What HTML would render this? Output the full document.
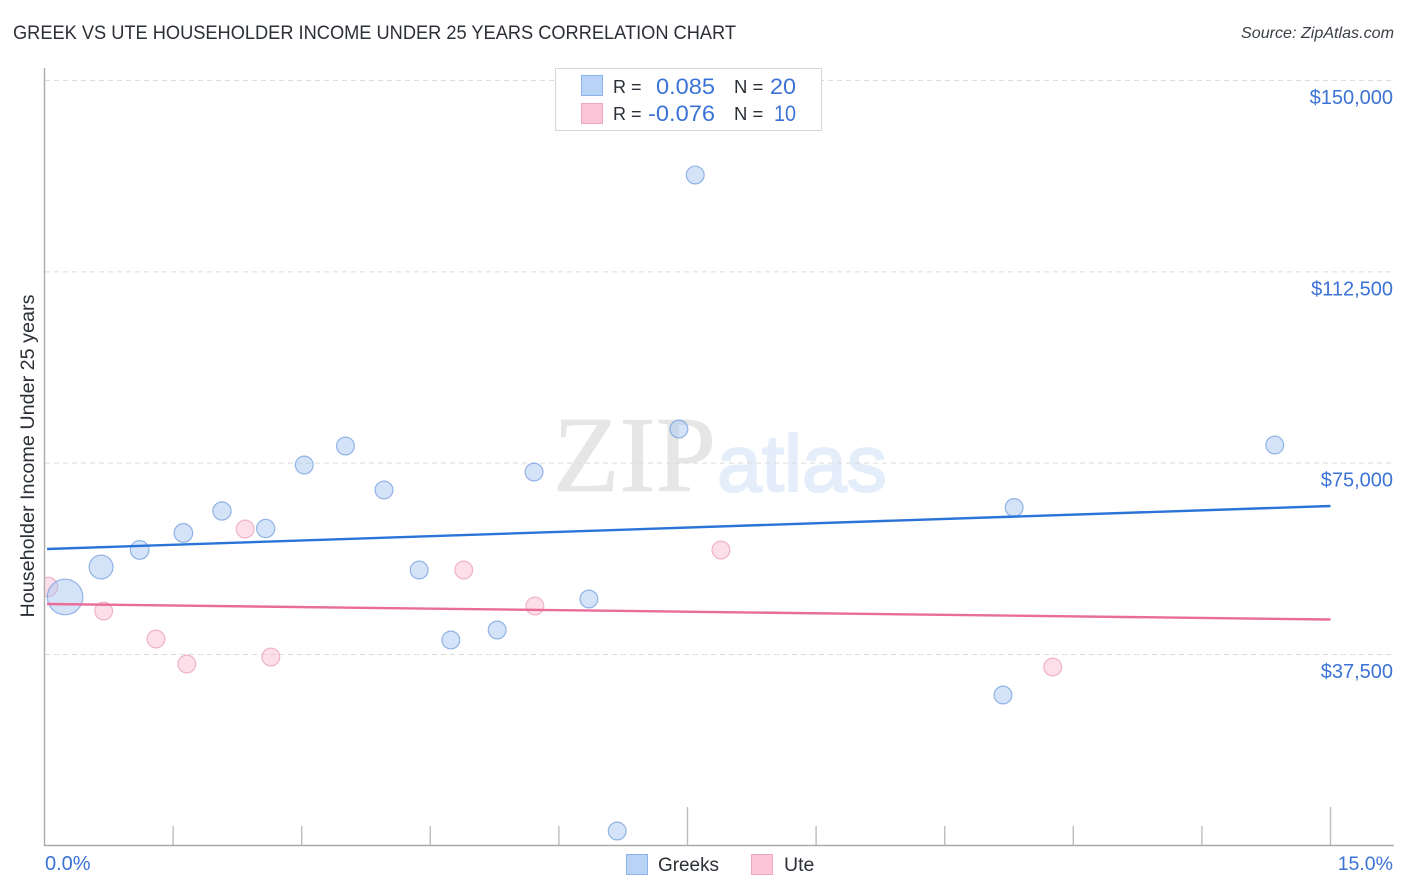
<!DOCTYPE html>
<html lang="en">
<head>
<meta charset="utf-8">
<title>Greek vs Ute Householder Income Under 25 Years Correlation Chart</title>
<style>
html,body{margin:0;padding:0;background:#fff;width:1406px;height:892px;overflow:hidden}
svg{display:block;font-family:"Liberation Sans",sans-serif}
</style>
</head>
<body>
<svg id="chart" width="1406" height="892" viewBox="0 0 1406 892" xmlns="http://www.w3.org/2000/svg">
  <rect x="0" y="0" width="1406" height="892" fill="#ffffff"/>
  <defs><clipPath id="plot-clip"><rect x="45" y="68" width="1349" height="777"/></clipPath></defs>
  <text x="13" y="39" font-size="19" fill="#2b2f36" textLength="723" lengthAdjust="spacingAndGlyphs">GREEK VS UTE HOUSEHOLDER INCOME UNDER 25 YEARS CORRELATION CHART</text>
  <text x="1394" y="38" font-size="16" font-style="italic" fill="#3a3f47" text-anchor="end" textLength="153" lengthAdjust="spacingAndGlyphs">Source: ZipAtlas.com</text>
  <g>
    <text x="553" y="491" font-family="'Liberation Serif',serif" font-size="108" fill="#e6e6e6" stroke="#e6e6e6" stroke-width="0.8" textLength="163" lengthAdjust="spacingAndGlyphs">ZIP</text>
    <text x="717" y="491" font-size="80" fill="#e4edfa" stroke="#e4edfa" stroke-width="2" textLength="170" lengthAdjust="spacingAndGlyphs">atlas</text>
  </g>
  <g id="grid"></g>
  <g id="axes"></g>
  <g id="marks-ute" clip-path="url(#plot-clip)"></g>
  <g id="marks-greeks" clip-path="url(#plot-clip)"></g>
  <g id="trends"></g>
  <g id="labels"></g>
  <text transform="translate(34,456) rotate(-90)" font-size="19.5" fill="#2b2f36" text-anchor="middle" textLength="323" lengthAdjust="spacingAndGlyphs">Householder Income Under 25 years</text>

  <g>
    <rect x="555.5" y="68.5" width="266" height="62" fill="#ffffff" stroke="#d6d6d6"/>
    <rect x="581.5" y="75.5" width="21" height="20" fill="#b9d3f7" stroke="#8db3e8"/>
    <rect x="581.5" y="103.5" width="21" height="20" fill="#fcc6d8" stroke="#f3a6bf"/>
    <text x="613" y="93" font-size="18" fill="#2b2f36">R =</text>
    <text x="715" y="94" font-size="22.5" fill="#3b73d6" text-anchor="end" textLength="59" lengthAdjust="spacingAndGlyphs">0.085</text>
    <text x="734" y="93" font-size="18.5" fill="#2b2f36">N =</text>
    <text x="796" y="94" font-size="22.5" fill="#3b73d6" text-anchor="end" textLength="26" lengthAdjust="spacingAndGlyphs">20</text>
    <text x="613" y="120" font-size="18" fill="#2b2f36">R =</text>
    <text x="715" y="121" font-size="22.5" fill="#3b73d6" text-anchor="end" textLength="67" lengthAdjust="spacingAndGlyphs">-0.076</text>
    <text x="734" y="120" font-size="18.5" fill="#2b2f36">N =</text>
    <text x="796" y="121" font-size="22.5" fill="#3b73d6" text-anchor="end" textLength="22" lengthAdjust="spacingAndGlyphs">10</text>
  </g>

  <g>
    <rect x="626.5" y="854.5" width="21" height="20" fill="#b9d3f7" stroke="#8db3e8"/>
    <text x="658" y="871" font-size="19.5" fill="#2b2f36" textLength="61" lengthAdjust="spacingAndGlyphs">Greeks</text>
    <rect x="751.5" y="854.5" width="21" height="20" fill="#fcc6d8" stroke="#f3a6bf"/>
    <text x="784" y="871" font-size="19.5" fill="#2b2f36">Ute</text>
  </g>
</svg>
<script>
// Chart data
const yTickValues = [37500, 75000, 112500, 150000];
const yTickLabels = ["$37,500", "$75,000", "$112,500", "$150,000"];
const xTickValues = [0, 1.5, 3, 4.5, 6, 7.5, 9, 10.5, 12, 13.5, 15];
const xEndLabels = ["0.0%", "15.0%"];
const greeksX = [0.24, 0.66, 1.11, 1.62, 2.07, 2.58, 3.03, 3.51, 3.96, 4.37, 4.74, 5.28, 5.71, 6.35, 6.68, 7.40, 7.59, 11.18, 11.31, 14.35];
const greeksY = [48672, 54552, 57884, 61216, 65528, 62098, 74544, 78268, 69644, 53964, 40244, 42204, 73172, 48280, 2808, 81600, 131384, 29464, 66214, 78464];
const greeksWeight = [4, 1.8, 1.1, 1.1, 1.05, 1.05, 1, 1, 1, 1, 1, 1, 1, 1, 1, 1, 1, 1, 1, 1];
const uteX = [0.04, 0.69, 1.30, 1.66, 2.34, 2.64, 4.89, 5.72, 7.89, 11.76];
const uteY = [50632, 45928, 40440, 35540, 62000, 36912, 53964, 46908, 57884, 34952];
const uteWeight = [1.2, 1, 1, 1, 1, 1, 1, 1, 1, 1];
const greeksTrendX = [0.03, 15];
const greeksTrendY = [58080, 66508];
const uteTrendX = [0.03, 15];
const uteTrendY = [47300, 44262];

// Axis functions
const NS = "http://www.w3.org/2000/svg";
function xScale(v) { return 44.5 + v * (1330.5 - 44.5) / 15; }
function yScale(v) { return 654 - (v - 37500) * (654 - 80) / (150000 - 37500); }
function rScale(w) { return 8.9 * Math.sqrt(w); }
function make(tag, attrs, parent) {
  const el = document.createElementNS(NS, tag);
  for (const k in attrs) el.setAttribute(k, attrs[k]);
  parent.appendChild(el);
  return el;
}

const grid = document.getElementById("grid");
const axes = document.getElementById("axes");
const labels = document.getElementById("labels");
const trends = document.getElementById("trends");

yTickValues.forEach(function (v, i) {
  const line = make("line", { x1: 45, x2: 1394, y1: yScale(v) + 0.5, y2: yScale(v) + 0.5, stroke: "#dcdcdc", "stroke-width": 1, "stroke-dasharray": "5 4" }, grid);
  
  
  const t = make("text", { x: 1393, y: yScale(v) + 24, "font-size": 20, fill: "#3b73d6", "text-anchor": "end" }, labels);
  t.textContent = yTickLabels[i];
  
  
});

const yAxis = make("line", { x1: 44.5, x2: 44.5, y1: 68, y2: 846, stroke: "#ababab", "stroke-width": 1.4 }, axes);


const xAxis = make("line", { x1: 44, x2: 1394, y1: 845.5, y2: 845.5, stroke: "#ababab", "stroke-width": 1.4 }, axes);



xTickValues.forEach(function (v, i) {
  if (i === 0) return;
  const major = i === 5 || i === 10;
  const tick = make("line", { x1: xScale(v), x2: xScale(v), y1: major ? 807 : 826, y2: 845, stroke: "#bdbdbd", "stroke-width": 1.4 }, axes);
  
  
});

const xLeft = make("text", { x: 45, y: 870, "font-size": 20, fill: "#3b73d6" }, labels);
xLeft.textContent = xEndLabels[0];


const xRight = make("text", { x: 1393, y: 870, "font-size": 19.5, fill: "#3b73d6", "text-anchor": "end" }, labels);
xRight.textContent = xEndLabels[1];



const uteGroup = document.getElementById("marks-ute");
uteX.forEach(function (v, i) {
  const c = make("circle", { cx: xScale(v), cy: yScale(uteY[i]), r: rScale(uteWeight[i]), fill: "#f9b8cf", "fill-opacity": 0.45, stroke: "#ea98b6", "stroke-opacity": 0.7, "stroke-width": 1.2 }, uteGroup);
  
  
});

const greeksGroup = document.getElementById("marks-greeks");
greeksX.forEach(function (v, i) {
  const c = make("circle", { cx: xScale(v), cy: yScale(greeksY[i]), r: rScale(greeksWeight[i]), fill: "#a9c8f2", "fill-opacity": 0.5, stroke: "#6f9bdc", "stroke-opacity": 0.72, "stroke-width": 1.2 }, greeksGroup);
  
  
});

const greeksLine = make("line", { x1: xScale(greeksTrendX[0]), y1: yScale(greeksTrendY[0]), x2: xScale(greeksTrendX[1]), y2: yScale(greeksTrendY[1]), stroke: "#2a74d8", "stroke-width": 2.4 }, trends);


const uteLine = make("line", { x1: xScale(uteTrendX[0]), y1: yScale(uteTrendY[0]), x2: xScale(uteTrendX[1]), y2: yScale(uteTrendY[1]), stroke: "#e96c99", "stroke-width": 2.4 }, trends);


</script>
</body>
</html>
